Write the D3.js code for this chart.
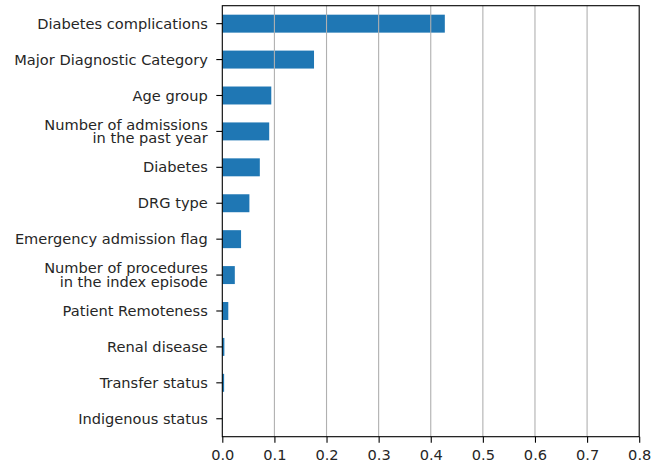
<!DOCTYPE html>
<html>
<head>
<meta charset="utf-8">
<script src="https://cdn.jsdelivr.net/npm/d3@7"></script>
<style>
  html, body { margin: 0; padding: 0; background: #fff; }
  svg { display: block; }
  text { font-family: "DejaVu Sans", sans-serif; fill: #262626; }
</style>
</head>
<body>
<svg id="chart" width="664" height="468"></svg>
<script>
const categories = [
  "Diabetes complications",
  "Major Diagnostic Category",
  "Age group",
  "Number of admissions\nin the past year",
  "Diabetes",
  "DRG type",
  "Emergency admission flag",
  "Number of procedures\nin the index episode",
  "Patient Remoteness",
  "Renal disease",
  "Transfer status",
  "Indigenous status"
];
const importances = [0.427, 0.176, 0.094, 0.090, 0.072, 0.052, 0.036, 0.024, 0.0115, 0.004, 0.0035, 0.0005];
const xTicks = [0.0, 0.1, 0.2, 0.3, 0.4, 0.5, 0.6, 0.7, 0.8];

(function () {
const svg = d3.select("#chart");
const mLeft = 222.3, mRight = 639.2, mTop = 5.7, mBottom = 436.7;
const fs = 14.6;

const x = d3.scaleLinear().domain([0, 0.8]).range([mLeft, mRight]);
const y = d3.scaleBand().domain(categories).range([mTop, mBottom]).paddingInner(0.5).paddingOuter(0.25);

// bars
svg.append("g").selectAll("rect").data(categories).join("rect")
  .attr("x", x(0))
  .attr("y", d => y(d))
  .attr("width", (d, i) => x(importances[i]) - x(0))
  .attr("height", y.bandwidth())
  .attr("fill", "#1f77b4");

// grid lines (on top of bars)
svg.append("g").selectAll("line").data(xTicks.slice(1, -1)).join("line")
  .attr("x1", d => x(d)).attr("x2", d => x(d))
  .attr("y1", mTop).attr("y2", mBottom)
  .attr("stroke", "#b0b0b0").attr("stroke-width", 1.1);

// frame
svg.append("rect")
  .attr("x", mLeft).attr("y", mTop)
  .attr("width", mRight - mLeft).attr("height", mBottom - mTop)
  .attr("fill", "none").attr("stroke", "#000").attr("stroke-width", 1.1);

// x axis
const xAxis = d3.axisBottom(x).tickValues(xTicks).tickFormat(d3.format(".1f")).tickSize(6).tickPadding(6.5);
const gx = svg.append("g").attr("transform", `translate(0,${mBottom})`).call(xAxis);
gx.select(".domain").remove();
gx.selectAll("line").attr("stroke", "#000").attr("stroke-width", 1.1);
gx.selectAll("text").attr("font-size", fs).attr("font-family", "DejaVu Sans").attr("fill", "#262626");

// y axis
const yAxis = d3.axisLeft(y).tickSize(6).tickPadding(5).tickFormat("");
const gy = svg.append("g").attr("transform", `translate(${mLeft},0)`).call(yAxis);
gy.select(".domain").remove();
gy.selectAll("line").attr("stroke", "#000").attr("stroke-width", 1.1);
gy.selectAll(".tick").each(function(d) {
  const lines = d.split("\n");
  const t = d3.select(this).append("text")
    .attr("text-anchor", "end")
    .attr("font-size", fs)
    .attr("fill", "#262626");
  const lh = 13.7;
  const startDy = -((lines.length - 1) * lh) / 2;
  lines.forEach((ln, k) => {
    t.append("tspan").attr("x", -14.5)
      .attr("y", startDy + k * lh)
      .attr("dy", "0.35em")
      .text(ln);
  });
});
})();
</script>
</body>
</html>
